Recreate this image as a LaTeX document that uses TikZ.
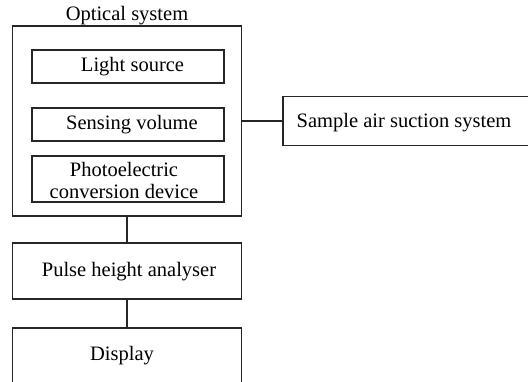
\documentclass[tikz,border=0pt]{standalone}
\usepackage{fontspec}
\setmainfont{Liberation Serif}
\begin{document}
\begin{tikzpicture}[x=1pt,y=-1pt,
  every node/.style={font=\fontsize{20.5}{22}\selectfont},
  box/.style={draw=black!85, line width=1.4pt, rectangle, inner sep=0pt},
  link/.style={draw=black!85, line width=1.4pt}]
\useasboundingbox (0,0) rectangle (528,381);
\clip (0,0) rectangle (528,381);
% optical system frame
\node[box, minimum width=229pt, minimum height=190pt] (opt) at (127,121) {};
\node (optlabel) at (127,16) {Optical system};
\node[box, minimum width=192pt, minimum height=33pt] (light) at (128,66.5) {};
\node (lighttext) at (132.5,67) {Light source};
\node[box, minimum width=192pt, minimum height=33pt] (sense) at (128,124.5) {};
\node (sensetext) at (132,125) {Sensing volume};
\node[box, minimum width=192pt, minimum height=46pt] (photo) at (128,179) {};
\node[align=center] (phototext) at (124,180) {Photoelectric\\conversion device};
% right
\node[box, minimum width=260pt, minimum height=49pt] (air) at (413,121) {};
\node (airtext) at (404,123) {Sample air suction system};
% lower chain
\node[box, minimum width=229pt, minimum height=56pt] (pulse) at (127,271) {};
\node (pulsetext) at (129,272) {Pulse height analyser};
\node[box, minimum width=229pt, minimum height=56pt] (disp) at (127,356) {};
\node (disptext) at (122,356) {Display};
% connectors
\draw[link] (opt.south) -- (pulse.north);
\draw[link] (pulse.south) -- (disp.north);
\draw[link] (opt.east) -- (air.west);
\end{tikzpicture}
\end{document}
